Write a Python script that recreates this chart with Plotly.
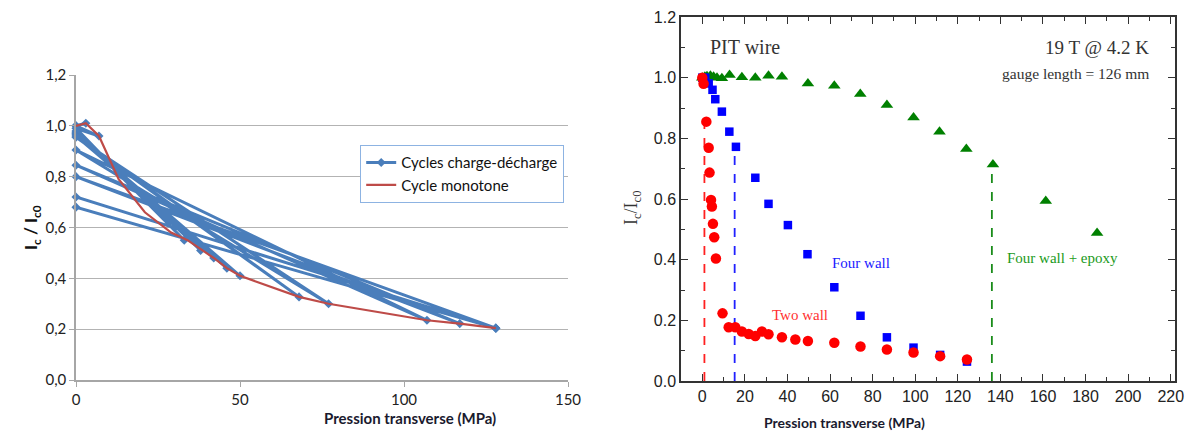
import plotly.graph_objects as go

# ---- left chart: Excel-style charge/discharge cycles ----
cycle_p = [0, 3, 0, 7, 0, 33, 0, 38, 0, 42, 0, 46, 0, 50, 0, 68, 0, 77,
           0, 107, 0, 117, 0, 128, 0, 128, 0, 128]
cycle_ic = [1.0, 1.01, 1.0, 0.96, 0.99, 0.55, 0.98, 0.51, 0.975, 0.48, 0.97, 0.44,
            0.965, 0.41, 0.96, 0.327, 0.955, 0.30, 0.905, 0.235, 0.845, 0.222,
            0.80, 0.204, 0.72, 0.204, 0.68, 0.204]

mono_p = [0, 3, 7, 13, 21, 29, 34, 38, 42, 46, 50, 68, 77, 107, 117, 128]
mono_ic = [1.0, 1.01, 0.96, 0.79, 0.66, 0.58, 0.55, 0.515, 0.48, 0.44, 0.41,
           0.327, 0.30, 0.235, 0.222, 0.204]

left_yticks = [0, 0.2, 0.4, 0.6, 0.8, 1.0, 1.2]
left_yticktext = ["0,0", "0,2", "0,4", "0,6", "0,8", "1,0", "1,2"]
left_xticks = [0, 50, 100, 150]

# ---- right chart: PIT wire ----
two_p = [0, 0.6, 1.9, 3.0, 3.4, 4.1, 4.5, 5.0, 5.6, 6.4, 9.5, 12.4, 15.5, 18.6,
         21.8, 24.9, 28.0, 31.1, 37.4, 43.7, 49.6, 62, 74.3, 86.7, 99.2, 111.7, 124.3]
two_ic = [1.0, 0.98, 0.855, 0.769, 0.687, 0.597, 0.575, 0.518, 0.474, 0.404, 0.223,
          0.177, 0.177, 0.163, 0.155, 0.148, 0.163, 0.154, 0.144, 0.137, 0.132,
          0.126, 0.114, 0.104, 0.094, 0.082, 0.071]

four_p = [0, 1.4, 3.0, 4.8, 6.1, 9.2, 12.7, 15.8, 24.9, 31.1, 40.2, 49.4, 62,
          74.3, 86.7, 99.2, 111.7, 124.3]
four_ic = [1.0, 1.0, 0.981, 0.96, 0.929, 0.888, 0.822, 0.772, 0.67, 0.584, 0.514,
           0.418, 0.309, 0.215, 0.144, 0.11, 0.086, 0.064]

epoxy_p = [0, 1.2, 2.2, 3.8, 5.3, 6.9, 9.2, 12.8, 18.6, 24.9, 31.1, 37.4, 49.6,
           62, 74.2, 86.7, 99.2, 111.4, 124, 136.5, 161.3, 185.4]
epoxy_ic = [1.0, 1.003, 1.005, 1.006, 1.003, 1.0, 0.998, 1.009, 1.001, 1.0, 1.006,
            1.003, 0.981, 0.973, 0.946, 0.91, 0.869, 0.822, 0.765, 0.714, 0.593, 0.488]

# vertical drop lines (pressure, top value)
drop_two = ([1.0, 1.0], [0, 0.85])
drop_four = ([15.2, 15.2], [0, 0.77])
drop_epoxy = ([136.0, 136.0], [0, 0.71])

BLUE = "#4a7ebb"
RED_X = "#be4b48"

fig = go.Figure()

fig.add_trace(go.Scatter(
    x=cycle_p, y=cycle_ic, mode="lines+markers", name="Cycles charge-décharge",
    line=dict(color=BLUE, width=3), marker=dict(symbol="diamond", size=7, color=BLUE),
    cliponaxis=False, xaxis="x", yaxis="y"))
fig.add_trace(go.Scatter(
    x=mono_p, y=mono_ic, mode="lines", name="Cycle monotone",
    line=dict(color=RED_X, width=2.2), cliponaxis=False, xaxis="x", yaxis="y"))

# right chart traces
for (dx, dy), col in [(drop_two, "#ff2020"), (drop_four, "#2020ff"), (drop_epoxy, "#1a8c1a")]:
    fig.add_trace(go.Scatter(x=dx, y=dy, mode="lines", showlegend=False,
                             line=dict(color=col, width=1.8, dash="dash"),
                             xaxis="x2", yaxis="y2"))

fig.add_trace(go.Scatter(x=epoxy_p, y=epoxy_ic, mode="markers", showlegend=False,
                         marker=dict(symbol="triangle-up", size=11, color="#008000"),
                         cliponaxis=False, xaxis="x2", yaxis="y2"))
fig.add_trace(go.Scatter(x=four_p, y=four_ic, mode="markers", showlegend=False,
                         marker=dict(symbol="square", size=8.5, color="#0000ff"),
                         cliponaxis=False, xaxis="x2", yaxis="y2"))
fig.add_trace(go.Scatter(x=two_p, y=two_ic, mode="markers", showlegend=False,
                         marker=dict(symbol="circle", size=10.5, color="#ff0000"),
                         cliponaxis=False, xaxis="x2", yaxis="y2"))

W, H = 1189, 432
serif = "Liberation Serif, Times New Roman, serif"
sans = "Liberation Sans, Arial, sans-serif"
cal = "Lato, Open Sans, sans-serif"

fig.update_layout(
    width=W, height=H, margin=dict(l=0, r=0, t=0, b=0),
    paper_bgcolor="white", plot_bgcolor="white",
    xaxis=dict(domain=[76 / W, 568 / W], range=[0, 150], tickvals=left_xticks,
               automargin=False,
               showgrid=False, zeroline=False, showline=True, linecolor="#a6a6a6",
               linewidth=1.5, ticks="outside", ticklen=5, tickcolor="#a6a6a6",
               tickfont=dict(family=cal, size=15, color="#222"), anchor="y"),
    yaxis=dict(domain=[(H - 380) / H, (H - 75) / H], range=[0, 1.2],
               tickvals=left_yticks, ticktext=left_yticktext, automargin=False,
               showgrid=True, gridcolor="#b3b3b3", gridwidth=1, zeroline=False,
               showline=True, linecolor="#a6a6a6", linewidth=1.5,
               ticks="outside", ticklen=5, tickcolor="#a6a6a6",
               tickfont=dict(family=cal, size=15, color="#222"), anchor="x"),
    xaxis2=dict(domain=[681 / W, 1175 / W], range=[-10, 222], dtick=20, tick0=0,
                automargin=False,
                showgrid=False, zeroline=False, showline=True, linecolor="#333",
                linewidth=1.5, mirror="ticks", ticks="inside", ticklen=7,
                tickcolor="#333", minor=dict(dtick=10, ticks="inside", ticklen=4, tickcolor="#333"),
                tickfont=dict(family=sans, size=16, color="#222"), anchor="y2"),
    yaxis2=dict(domain=[(H - 381) / H, (H - 17) / H], range=[0, 1.2], dtick=0.2,
                tickformat=".1f", automargin=False, showgrid=False, zeroline=False, showline=True,
                linecolor="#333", linewidth=1.5, mirror="ticks", ticks="inside",
                ticklen=7, tickcolor="#333",
                minor=dict(dtick=0.1, ticks="inside", ticklen=4, tickcolor="#333"),
                tickfont=dict(family=sans, size=16, color="#222"), anchor="x2"),
    legend=dict(x=360 / W, y=(H - 145) / H, xanchor="left", yanchor="top",
                bgcolor="white", bordercolor="#8db3e2", borderwidth=1.2, itemwidth=30,
                font=dict(family=cal, size=15, color="#111"), tracegroupgap=2),
    showlegend=True,
)

ann = [
    dict(text="<b>Pression transverse (MPa)</b>", x=322 / W, y=(H - 418) / H,
         xref="paper", yref="paper", yanchor="middle", showarrow=False,
         font=dict(family=cal, size=15, color="#1a1a2e")),
    dict(text="<b>I<sub>c</sub> / I<sub>c0</sub></b>", x=18 / W, y=(H - 228) / H,
         xref="paper", yref="paper", showarrow=False, textangle=-90,
         font=dict(family=cal, size=17, color="#111")),
    dict(text="<b>Pression transverse (MPa)</b>", x=927 / W, y=(H - 422) / H,
         xref="paper", yref="paper", yanchor="middle", showarrow=False,
         font=dict(family=cal, size=14, color="#1a1a2e")),
    dict(text="I<sub>c</sub>/I<sub>c0</sub>", x=632 / W, y=(H - 208) / H,
         xref="paper", yref="paper", showarrow=False, textangle=-90,
         font=dict(family=serif, size=18, color="#333")),
    dict(text="PIT wire", x=2.5, y=1.1, xref="x2", yref="y2", xanchor="left",
         showarrow=False, font=dict(family=serif, size=20, color="#333")),
    dict(text="19 T @ 4.2 K", x=210.5, y=1.1, xref="x2", yref="y2", xanchor="right",
         showarrow=False, font=dict(family=serif, size=19, color="#333")),
    dict(text="gauge length = 126 mm", x=210.5, y=1.015, xref="x2", yref="y2", xanchor="right",
         showarrow=False, font=dict(family=serif, size=15.5, color="#333")),
    dict(text="Four wall", x=60, y=0.389, xref="x2", yref="y2", xanchor="left",
         showarrow=False, font=dict(family=serif, size=15, color="#2020ff")),
    dict(text="Two wall", x=32, y=0.218, xref="x2", yref="y2", xanchor="left",
         showarrow=False, font=dict(family=serif, size=15, color="#ff3030")),
    dict(text="Four wall + epoxy", x=142, y=0.405, xref="x2", yref="y2", xanchor="left",
         showarrow=False, font=dict(family=serif, size=15, color="#1a9a1a")),
]
fig.update_layout(annotations=ann)

# drop the default 8px page margin so the figure sits at the window's top-left
fig.write_html("out.html", config={"displayModeBar": False},
               post_script="document.body.style.margin='0px';")
